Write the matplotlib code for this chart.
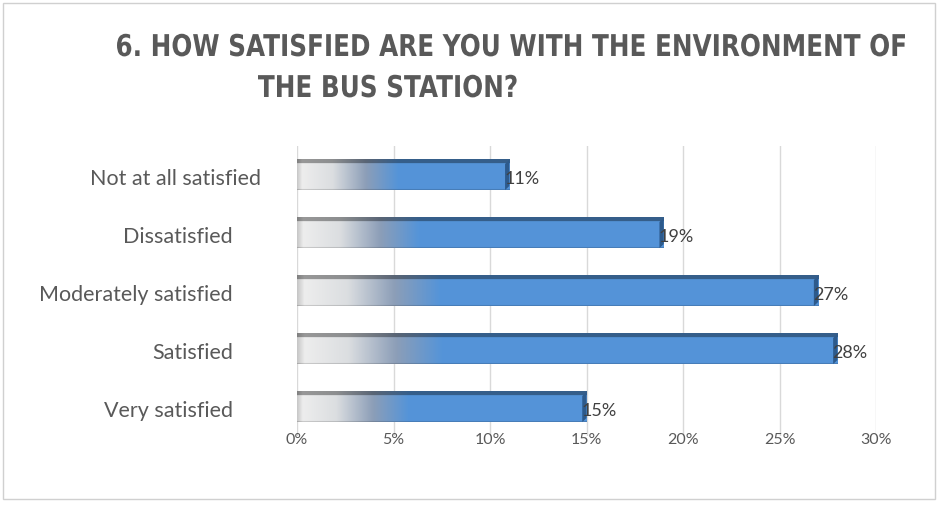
import numpy as np
import matplotlib.pyplot as plt
from matplotlib.patches import Rectangle, Polygon, PathPatch
from matplotlib.textpath import TextPath
from matplotlib.font_manager import FontProperties
from matplotlib.transforms import Affine2D, IdentityTransform, blended_transform_factory

# Survey answers, top to bottom
categories = ["Not at all satisfied", "Dissatisfied", "Moderately satisfied",
              "Satisfied", "Very satisfied"]
values = [11, 19, 27, 28, 15]
tick_vals = [0, 5, 10, 15, 20, 25, 30]
tick_labels = ["0%", "5%", "10%", "15%", "20%", "25%", "30%"]

grey_txt = "#595959"
label_font = ["Lato", "DejaVu Sans"]

W, H = 938, 506
fig = plt.figure(figsize=(W / 100, H / 100), dpi=100)
ax = fig.add_axes([297 / W, 1 - 437 / H, (876 - 297) / W, 290 / H])

# gradient stops, relative to the length of the grey->blue ramp
stops_s = [0.0, 0.05, 0.35, 0.68, 1.0]
stops_c = np.array([
    [0.78, 0.78, 0.78],
    [0.93, 0.93, 0.93],
    [0.86, 0.87, 0.88],
    [0.55, 0.62, 0.72],
    [0.33, 0.58, 0.85],
])

def bar_image(v, rows=30):
    ramp = 3.75 + 0.135 * v              # ramp ends a bit further out on long bars
    xs = np.linspace(0, v, 600)
    s = xs / ramp
    rgb = np.stack([np.interp(s, stops_s, stops_c[:, k]) for k in range(3)], axis=-1)
    img = np.repeat(rgb[None, :, :], rows, axis=0)
    img[:4] *= 0.64          # darker top face
    img[-1] *= 0.85
    return img

h = 0.52
for i, v in enumerate(values):
    y0, y1 = i - h / 2, i + h / 2
    ax.imshow(bar_image(v), extent=(0, v, y1, y0), aspect="auto",
              interpolation="bilinear", zorder=3)
    # dark right side of the 3D bar
    ax.add_patch(Polygon([(v - 0.22, y1), (v - 0.22, y0 + 0.07),
                          (v, y0), (v, y1 - 0.07)],
                         closed=True, color="#2d5a8c", zorder=4, lw=0))
    ax.text(v - 0.25, i + 0.06, f"{v}%", va="center", ha="left",
            fontsize=13, color="#404040", family=label_font, zorder=5)

ax.set_xlim(0, 30)
ax.set_ylim(4.5, -0.5)
ax.set_xticks(tick_vals)
ax.set_xticklabels(tick_labels, family=label_font, fontsize=11.5, color=grey_txt)
ax.set_yticks([])
ax.tick_params(length=0)
ax.tick_params(axis="x", pad=-3)
ax.grid(axis="x", color="#d9d9d9", lw=1, zorder=0)
ax.set_axisbelow(True)
for s in ax.spines.values():
    s.set_visible(False)

# category names, right-aligned left of the plot
ytrans = blended_transform_factory(fig.transFigure, ax.transData)
right_px = [261, 233, 233, 233, 233]
for i, name in enumerate(categories):
    fig.text(right_px[i] / W, i + 0.05, name, transform=ytrans, ha="right", va="center",
             family=label_font, fontsize=15.5, color=grey_txt)

# condensed bold title drawn as outlines squeezed horizontally
title_fp = FontProperties(family="DejaVu Sans", weight="bold")
line1 = "6. HOW SATISFIED ARE YOU WITH THE ENVIRONMENT OF"
line2 = "THE BUS STATION?"
tsize = 30
tp1 = TextPath((0, 0), line1, size=tsize, prop=title_fp)
sx = (905 - 117) / tp1.get_extents().width
for txt, x0, base in [(line1, 117, 57), (line2, 258, 98)]:
    tp = TextPath((0, 0), txt, size=tsize, prop=title_fp)
    e = tp.get_extents()
    path = Affine2D().scale(sx, 1).translate(x0 - e.x0 * sx, H - base).transform_path(tp)
    fig.add_artist(PathPatch(path, transform=IdentityTransform(),
                             facecolor=grey_txt, edgecolor="none"))

# outer chart border
fig.patches.append(Rectangle((3 / W, 6 / H), 932 / W, 496 / H,
                             transform=fig.transFigure, fill=False,
                             edgecolor="#d0d0d0", lw=1))

fig.savefig("out.png", dpi=100)
